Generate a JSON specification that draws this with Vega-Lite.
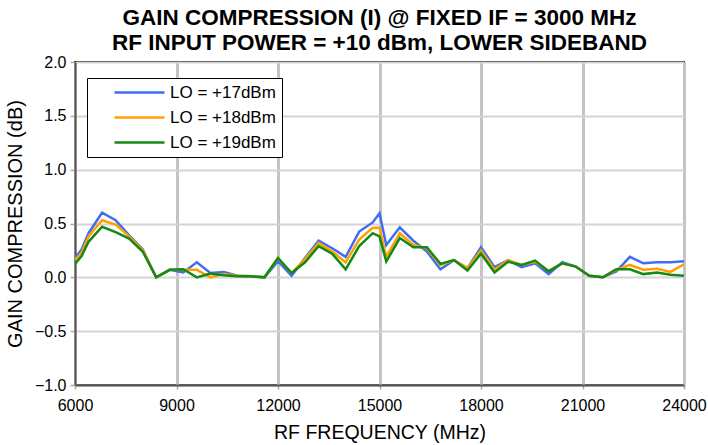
{
  "$schema": "https://vega.github.io/schema/vega-lite/v6.json",
  "width": 609,
  "height": 323,
  "autosize": "none",
  "padding": {"left": 75, "top": 62, "right": 24, "bottom": 60},
  "background": "white",
  "config": {
    "font": "Liberation Sans",
    "view": {"stroke": "#000000", "strokeWidth": 2},
    "axis": {"labelColor": "#000", "titleColor": "#000", "labelFont": "Liberation Sans", "titleFont": "Liberation Sans"}
  },
  "title": {
    "text": ["GAIN COMPRESSION (I) @ FIXED IF = 3000 MHz", "RF INPUT POWER = +10 dBm, LOWER SIDEBAND"],
    "fontSize": 22.5,
    "fontWeight": "bold",
    "font": "Liberation Sans",
    "lineHeight": 25,
    "offset": 0,
    "anchor": "middle",
    "color": "#000"
  },
  "data": {
    "values": [
      {"f": 6000, "a": 0.18, "b": 0.16, "c": 0.125},
      {"f": 6200, "a": 0.26, "b": 0.23, "c": 0.2},
      {"f": 6400, "a": 0.41, "b": 0.38, "c": 0.33},
      {"f": 6800, "a": 0.6, "b": 0.53, "c": 0.47},
      {"f": 7200, "a": 0.53, "b": 0.49, "c": 0.42},
      {"f": 7600, "a": 0.39, "b": 0.38, "c": 0.36},
      {"f": 8000, "a": 0.26, "b": 0.255, "c": 0.24},
      {"f": 8400, "a": 0.0, "b": 0.0, "c": 0.0},
      {"f": 8800, "a": 0.07, "b": 0.07, "c": 0.07},
      {"f": 9200, "a": 0.045, "b": 0.07, "c": 0.075},
      {"f": 9600, "a": 0.14, "b": 0.07, "c": 0.0},
      {"f": 10000, "a": 0.04, "b": 0.0, "c": 0.035},
      {"f": 10400, "a": 0.05, "b": 0.03, "c": 0.02},
      {"f": 10800, "a": 0.015, "b": 0.015, "c": 0.01},
      {"f": 11200, "a": 0.01, "b": 0.01, "c": 0.01},
      {"f": 11600, "a": 0.0, "b": 0.0, "c": 0.0},
      {"f": 12000, "a": 0.15, "b": 0.18, "c": 0.18},
      {"f": 12400, "a": 0.014, "b": 0.04, "c": 0.04},
      {"f": 12800, "a": 0.18, "b": 0.17, "c": 0.14},
      {"f": 13200, "a": 0.34, "b": 0.32, "c": 0.29},
      {"f": 13600, "a": 0.27, "b": 0.24, "c": 0.22},
      {"f": 14000, "a": 0.19, "b": 0.14, "c": 0.075},
      {"f": 14400, "a": 0.425, "b": 0.35, "c": 0.29},
      {"f": 14800, "a": 0.51, "b": 0.46, "c": 0.41},
      {"f": 15000, "a": 0.595, "b": 0.46, "c": 0.38},
      {"f": 15200, "a": 0.3, "b": 0.19, "c": 0.147},
      {"f": 15600, "a": 0.465, "b": 0.41, "c": 0.365},
      {"f": 16000, "a": 0.34, "b": 0.3, "c": 0.28},
      {"f": 16400, "a": 0.24, "b": 0.27, "c": 0.28},
      {"f": 16800, "a": 0.075, "b": 0.115, "c": 0.125},
      {"f": 17200, "a": 0.16, "b": 0.16, "c": 0.16},
      {"f": 17600, "a": 0.085, "b": 0.085, "c": 0.063},
      {"f": 18000, "a": 0.28, "b": 0.25, "c": 0.22},
      {"f": 18400, "a": 0.095, "b": 0.07, "c": 0.045},
      {"f": 18800, "a": 0.16, "b": 0.16, "c": 0.145},
      {"f": 19200, "a": 0.095, "b": 0.115, "c": 0.115},
      {"f": 19600, "a": 0.13, "b": 0.145, "c": 0.155},
      {"f": 20000, "a": 0.03, "b": 0.06, "c": 0.055},
      {"f": 20400, "a": 0.14, "b": 0.13, "c": 0.13},
      {"f": 20800, "a": 0.1, "b": 0.1, "c": 0.1},
      {"f": 21200, "a": 0.015, "b": 0.015, "c": 0.015},
      {"f": 21600, "a": 0.0, "b": 0.0, "c": 0.0},
      {"f": 22000, "a": 0.055, "b": 0.07, "c": 0.075},
      {"f": 22400, "a": 0.19, "b": 0.115, "c": 0.075},
      {"f": 22800, "a": 0.13, "b": 0.07, "c": 0.03},
      {"f": 23200, "a": 0.14, "b": 0.08, "c": 0.045},
      {"f": 23600, "a": 0.14, "b": 0.05, "c": 0.025},
      {"f": 24000, "a": 0.15, "b": 0.12, "c": 0.015}
    ]
  },
  "transform": [{"fold": ["a", "b", "c"], "as": ["s", "v"]}],
  "mark": {"type": "line", "strokeWidth": 2.5, "clip": true},
  "encoding": {
    "x": {
      "field": "f", "type": "quantitative",
      "scale": {"domain": [6000, 24000], "nice": false, "zero": false},
      "axis": {
        "values": [6000, 9000, 12000, 15000, 18000, 21000, 24000],
        "format": "d",
        "title": "RF FREQUENCY (MHz)",
        "titleFontSize": 19.5, "titleFontWeight": "normal", "titlePadding": 10,
        "labelFontSize": 16, "labelPadding": 8,
        "grid": true, "gridColor": "#c4c4c4", "gridWidth": 3,
        "domainColor": "#555", "domainWidth": 2,
        "tickColor": "#aaa", "tickSize": 4, "tickWidth": 1.5,
        "labelFlush": false
      }
    },
    "y": {
      "field": "v", "type": "quantitative",
      "scale": {"domain": [-1, 2], "nice": false, "zero": false},
      "axis": {
        "values": [-1, -0.5, 0, 0.5, 1, 1.5, 2],
        "format": ".1f",
        "title": "GAIN COMPRESSION (dB)",
        "titleFontSize": 20, "titleFontWeight": "normal", "titlePadding": 9,
        "labelFontSize": 16, "labelPadding": 4,
        "grid": true, "gridColor": "#d4d4d4", "gridWidth": 2,
        "domainColor": "#555", "domainWidth": 2,
        "tickColor": "#aaa", "tickSize": 5, "tickWidth": 1.5
      }
    },
    "color": {
      "field": "s", "type": "nominal",
      "scale": {"domain": ["a", "b", "c"], "range": ["#3F6EF5", "#FFA000", "#138A13"]},
      "legend": {
        "title": null,
        "orient": "none",
        "legendX": 12,
        "legendY": 16,
        "labelExpr": "datum.value == 'a' ? 'LO = +17dBm' : datum.value == 'b' ? 'LO = +18dBm' : 'LO = +19dBm'",
        "labelFontSize": 17,
        "labelFont": "Liberation Sans",
        "labelColor": "#000",
        "labelOffset": 4,
        "labelLimit": 300,
        "symbolType": "stroke",
        "symbolSize": 2500,
        "symbolStrokeWidth": 2.5,
        "symbolOffset": 20,
        "clipHeight": 17,
        "rowPadding": 7,
        "padding": 6,
        "strokeColor": "#000",
        "fillColor": "#fff"
      }
    }
  }
}
